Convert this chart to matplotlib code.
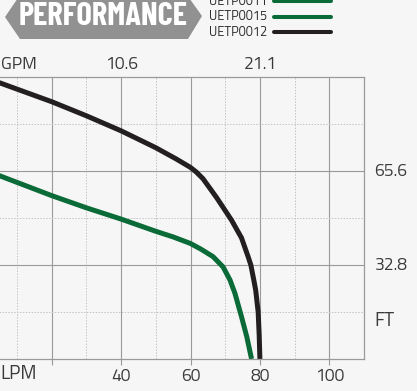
import matplotlib.pyplot as plt
from matplotlib import font_manager as fm
from matplotlib.lines import Line2D
from matplotlib.patches import Polygon

# pump curves, flow in LPM, head in metres
lpm_0012 = [0, 5.1, 20, 30, 40, 50, 55.9, 60, 61.7, 63.6, 67.5, 71.8, 74.7, 76.6, 77.4, 78.3, 78.8, 79.5, 79.8, 80]
head_0012 = [30.1, 29.4, 27.4, 25.9, 24.3, 22.5, 21.3, 20.4, 19.9, 19.2, 17.2, 14.8, 12.9, 10.9, 10.0, 8.3, 7.3, 5.0, 2.5, 0]

lpm_0015 = [0, 5.1, 20, 30, 40, 50, 55, 60, 63, 66.5, 69.4, 71.4, 72.8, 74.7, 76.2, 77.6]
head_0015 = [20.2, 19.5, 17.4, 16.1, 14.9, 13.6, 13.0, 12.3, 11.7, 10.9, 9.8, 8.4, 7.0, 4.5, 2.4, 0]

lpm_ticks = [20, 40, 60, 80, 100]
lpm_labels = ['', '40', '60', '80', '100']
gpm_pos = [40, 80]
gpm_labels = ['10.6', '21.1']
ft_pos = [20, 10]
ft_labels = ['65.6', '32.8']

legend_labels = ['UETP0011', 'UETP0015', 'UETP0012']
green = '#0b6b38'
black = '#231f20'
legend_colors = [green, green, black]

bg = '#f6f6f6'
txt = '#3a3a3a'
grid_c = '#9a9a9a'

avail = {f.name for f in fm.fontManager.ttflist}


def pick(*opts):
    for name, size in opts:
        if name in avail:
            return name, size
    return opts[-1]


lab_font, lab_size = pick(('Titillium Web', 12.6), ('Barlow Semi Condensed', 12), ('Liberation Sans', 11))
leg_font, leg_size = pick(('Titillium Web', 9.2), ('Barlow Semi Condensed', 8.8), ('DejaVu Sans', 7.6))
ban_font, ban_size = pick(('Barlow Condensed', 23.5), ('Liberation Sans', 14.5))

fig = plt.figure(figsize=(4.17, 3.91), dpi=100, facecolor=bg)
ax = fig.add_axes([-17.7 / 417, 32 / 391, 381.7 / 417, 281.7 / 391])
ax.set_facecolor(bg)

ax.set_xlim(0, 110)
ax.set_ylim(0, 30)

ax.set_xticks(lpm_ticks)
ax.set_xticklabels(lpm_labels, family=lab_font, fontsize=lab_size, color=txt)
ax.set_xticks(range(10, 110, 20), minor=True)
ax.set_yticks([10, 20])
ax.set_yticks([5, 15, 25], minor=True)
ax.tick_params(axis='x', which='major', length=4, width=0.8, color=grid_c, pad=2.5)
ax.tick_params(axis='x', which='minor', length=0)
ax.tick_params(axis='y', which='both', length=0, labelleft=False)

ax.grid(which='major', color=grid_c, lw=0.8, ls='-')
ax.grid(which='minor', color='#c4c4c4', lw=0.7, ls=(0, (1.5, 1.5)))
ax.set_axisbelow(True)
for s in ['top', 'right', 'bottom']:
    ax.spines[s].set_color(grid_c)
    ax.spines[s].set_linewidth(0.9)
ax.spines['left'].set_visible(False)

ax.plot(lpm_0015, head_0015, color=green, lw=3.6, solid_capstyle='butt', solid_joinstyle='round', clip_on=False)
ax.plot(lpm_0012, head_0012, color=black, lw=3.6, solid_capstyle='butt', solid_joinstyle='round', clip_on=False)

# secondary unit labels
for x, lab in zip(gpm_pos, gpm_labels):
    ax.text(x, 31.4, lab, ha='center', va='center', family=lab_font, fontsize=lab_size, color=txt, clip_on=False)
ax.text(5.25, 31.4, 'GPM', ha='left', va='center', family=lab_font, fontsize=lab_size, color=txt, clip_on=False)
ax.text(5.25, -1.62, 'LPM', ha='left', va='center', family=lab_font, fontsize=lab_size + 1.2, color=txt, clip_on=False)
for y, lab in zip(ft_pos, ft_labels):
    ax.text(113.0, y, lab, ha='left', va='center', family=lab_font, fontsize=lab_size, color=txt, clip_on=False)
ax.text(113.0, 4.0, 'FT', ha='left', va='center', family=lab_font, fontsize=lab_size + 1.2, color=txt, clip_on=False)

# header: banner and legend, in figure pixels
top = fig.add_axes([0, 0, 1, 1])
top.set_xlim(0, 417)
top.set_ylim(391, 0)
top.axis('off')
top.patch.set_alpha(0)

banner = Polygon([(5, 17), (20, -5), (187, -5), (202, 16), (188, 39), (20, 39)],
                 closed=True, facecolor='#919191', edgecolor='none')
top.add_patch(banner)
top.text(103, 16.5, 'PERFORMANCE', ha='center', va='center', color='white',
         fontsize=ban_size, fontweight='bold', family=ban_font)

for i, (lab, c) in enumerate(zip(legend_labels, legend_colors)):
    yy = 1.2 + i * 15.6
    top.text(209, yy, lab, ha='left', va='center', fontsize=leg_size, color='#2a2a2a', family=leg_font)
    top.add_line(Line2D([274, 331], [yy, yy], color=c, lw=2.9, solid_capstyle='round'))

plt.savefig('out.png', dpi=100, facecolor=bg)
